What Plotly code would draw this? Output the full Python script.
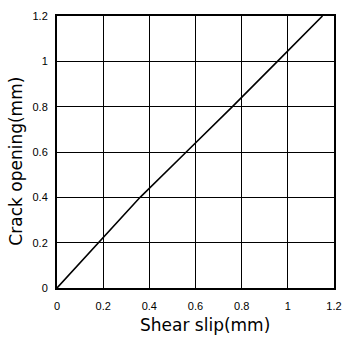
import plotly.graph_objects as go

shear_slip = [0.0, 0.18, 0.36, 0.56, 0.76, 0.955, 1.15]
crack_opening = [0.0, 0.2, 0.4, 0.6, 0.8, 1.0, 1.2]
tick_vals = [0, 0.2, 0.4, 0.6, 0.8, 1, 1.2]
tick_text = ["0", "0.2", "0.4", "0.6", "0.8", "1", "1.2"]

fig = go.Figure()
fig.add_trace(go.Scatter(x=shear_slip, y=crack_opening, mode="lines",
                         line=dict(color="black", width=1.6), showlegend=False))

axis_common = dict(range=[0, 1.2], tickvals=tick_vals, ticktext=tick_text,
                   showgrid=True, gridcolor="black", gridwidth=1,
                   showline=True, linecolor="black", linewidth=2, mirror=True,
                   ticks="", zeroline=False,
                   tickfont=dict(family="Liberation Sans", size=11, color="black"))

fig.update_xaxes(**axis_common, ticklabelstandoff=7)
fig.update_yaxes(**axis_common, ticklabelstandoff=5)

title_font = dict(family="DejaVu Sans", size=17, color="black")
fig.add_annotation(text="Shear slip(mm)", xref="paper", yref="paper",
                   x=(209 - 57) / 285, y=-(325 - 288) / 273,
                   xanchor="center", yanchor="middle", showarrow=False, font=title_font)
fig.add_annotation(text="Crack opening(mm)", xref="paper", yref="paper",
                   x=-(57 - 15) / 285, y=(288 - 161) / 273, textangle=-90,
                   xanchor="center", yanchor="middle", showarrow=False, font=title_font)

fig.update_layout(width=352, height=337, margin=dict(l=57, r=10, t=15, b=49),
                  plot_bgcolor="white", paper_bgcolor="white")
fig.write_html("out.html")
